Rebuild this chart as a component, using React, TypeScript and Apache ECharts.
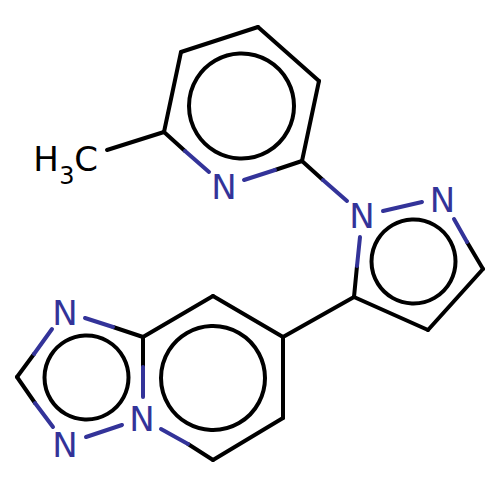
import React, { useEffect, useRef } from "react";
import * as echarts from "echarts";

const BLACK = "#000000";
const BLUE = "#333399";

// [x1, y1, x2, y2] bond segments in the drawing's coordinates
const blackBonds = [
  [107, 150, 164, 132],
  [164, 132, 181, 52],
  [181, 52, 258, 27],
  [258, 27, 319, 81],
  [319, 81, 302, 161],
  [164, 132, 185, 151],
  [275, 170, 302, 161],
  [302, 161, 323, 180],
  [467, 242, 483, 269],
  [483, 269, 428, 330],
  [428, 330, 354, 297],
  [354, 297, 357, 266],
  [354, 297, 283, 337],
  [283, 337, 283, 418],
  [283, 418, 213, 460],
  [213, 460, 188, 444],
  [283, 337, 213, 296],
  [213, 296, 143, 337],
  [143, 337, 143, 367],
  [143, 337, 113, 327],
  [34, 354, 17, 377],
  [17, 377, 35, 403],
];
const blueBonds = [
  [185, 151, 209, 172],
  [244, 180, 275, 170],
  [323, 180, 347, 201],
  [383, 211, 422, 202],
  [454, 219, 467, 242],
  [357, 266, 360, 237],
  [188, 444, 161, 429],
  [143, 367, 143, 397],
  [113, 327, 85, 318],
  [52, 329, 34, 354],
  [35, 403, 53, 427],
  [86, 437, 122, 425],
];
// [cx, cy, r] aromatic rings
const rings = [
  [241.5, 106, 52.5],
  [413.5, 261.5, 42],
  [86.5, 377.5, 42],
  [213, 378, 52],
];
// [x, y] nitrogen labels
const nitrogens = [
  [224, 187],
  [362, 216],
  [442.5, 200],
  [65, 313],
  [65, 445],
  [142, 419],
];
// [text, x, y, fontSize] methyl label
const methyl: [string, number, number, number][] = [
  ["H", 46, 159, 34],
  ["3", 67, 176, 24],
  ["C", 86, 159, 34],
];

const bondSeries = (data: number[][], color: string) => ({
  type: "custom",
  coordinateSystem: "cartesian2d",
  silent: true,
  clip: false,
  encode: { x: [0, 2], y: [1, 3] },
  data,
  renderItem: (_: unknown, api: any) => {
    const a = api.coord([api.value(0), api.value(1)]);
    const b = api.coord([api.value(2), api.value(3)]);
    return {
      type: "line",
      shape: { x1: a[0], y1: a[1], x2: b[0], y2: b[1] },
      style: { stroke: color, lineWidth: 4, lineCap: "round", fill: "none" },
    };
  },
});

const textStyle = (text: string, size: number, color: string) => ({
  text,
  fill: color,
  fontFamily: "'DejaVu Sans', sans-serif",
  fontSize: size,
  align: "center",
  verticalAlign: "middle",
});

export default function App() {
  const ref = useRef<HTMLDivElement>(null);
  useEffect(() => {
    document.body.style.margin = "0";
    const chart = echarts.init(ref.current!, undefined, { renderer: "svg" });
    chart.setOption({
      animation: false,
      backgroundColor: "#ffffff",
      grid: { left: 0, right: 0, top: 0, bottom: 0 },
      xAxis: { type: "value", min: 0, max: 500, show: false },
      yAxis: { type: "value", min: 0, max: 500, inverse: true, show: false },
      tooltip: { show: false },
      series: [
        bondSeries(blackBonds, BLACK),
        bondSeries(blueBonds, BLUE),
        {
          type: "custom",
          coordinateSystem: "cartesian2d",
          silent: true,
          encode: { x: 0, y: 1 },
          data: rings,
          renderItem: (_: unknown, api: any) => {
            const c = api.coord([api.value(0), api.value(1)]);
            return {
              type: "circle",
              shape: { cx: c[0], cy: c[1], r: api.value(2) },
              style: { stroke: BLACK, lineWidth: 4, fill: "none" },
            };
          },
        },
        {
          type: "custom",
          coordinateSystem: "cartesian2d",
          silent: true,
          encode: { x: 0, y: 1 },
          data: nitrogens,
          renderItem: (_: unknown, api: any) => {
            const c = api.coord([api.value(0), api.value(1)]);
            return {
              type: "text",
              x: c[0],
              y: c[1],
              style: textStyle("N", 34, BLUE),
            };
          },
        },
        {
          type: "custom",
          coordinateSystem: "cartesian2d",
          silent: true,
          encode: { x: 1, y: 2 },
          data: methyl,
          renderItem: (p: any, api: any) => {
            const m = methyl[p.dataIndex];
            const c = api.coord([m[1], m[2]]);
            return {
              type: "text",
              x: c[0],
              y: c[1],
              style: textStyle(m[0], m[3], BLACK),
            };
          },
        },
      ],
    });
    return () => chart.dispose();
  }, []);
  return <div ref={ref} style={{ width: 500, height: 500 }} />;
}
